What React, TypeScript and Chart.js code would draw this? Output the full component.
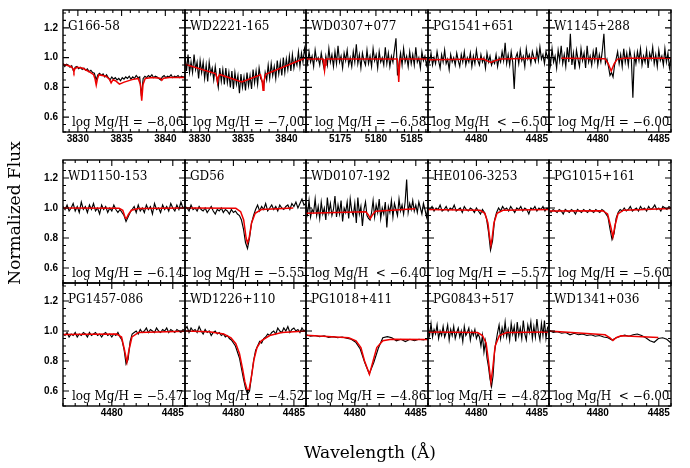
import React, { useEffect, useRef } from "react";
import { Chart, registerables } from "chart.js";
Chart.register(...registerables);

// ---------------- data ----------------
const yTickLabels = [0.6, 0.8, 1.0, 1.2];
const fluxMin = 0.5;
const fluxMax = 1.32;

// Panel 1: G166-58
const g16658Range = [3828.3, 3842.25];
const g16658Obs = [
  0.96, 0.94, 0.955, 0.95, 0.935, 0.945, 0.91, 0.935, 0.94, 0.925,
  0.935, 0.92, 0.93, 0.915, 0.925, 0.905, 0.915, 0.9, 0.895, 0.85,
  0.885, 0.895, 0.88, 0.89, 0.87, 0.885, 0.865, 0.85, 0.87, 0.855,
  0.865, 0.85, 0.86, 0.845, 0.865, 0.855, 0.87, 0.86, 0.875, 0.855,
  0.87, 0.86, 0.88, 0.865, 0.87, 0.74, 0.86, 0.875, 0.865, 0.88,
  0.87, 0.885, 0.865, 0.875, 0.87, 0.86, 0.85, 0.87, 0.88, 0.865,
  0.875, 0.87, 0.885, 0.865, 0.875, 0.87, 0.88, 0.865, 0.875, 0.87, 0.875,
];
const g16658Model = [
  [3828.3, 0.955], [3829.2, 0.94], [3829.45, 0.925], [3829.55, 0.905], [3829.65, 0.925], [3829.9, 0.935],
  [3830.5, 0.93], [3831.3, 0.905], [3831.8, 0.885], [3831.95, 0.86], [3832.1, 0.815], [3832.25, 0.86],
  [3832.4, 0.885], [3833.2, 0.875], [3833.6, 0.855], [3833.8, 0.83], [3834.0, 0.85], [3834.3, 0.845],
  [3834.75, 0.822], [3835.3, 0.835], [3836.2, 0.852], [3836.9, 0.86], [3837.15, 0.82], [3837.3, 0.71],
  [3837.45, 0.82], [3837.7, 0.86], [3838.5, 0.866], [3839.4, 0.862], [3839.6, 0.848], [3839.8, 0.862],
  [3840.5, 0.866], [3842.25, 0.866],
];

// Panel 2: WD2221-165
const wd2221Range = [3828.3, 3842.25];
const wd2221Obs = [
  1.01, 0.91, 1.02, 0.9, 0.97, 0.9, 1.02, 0.92, 0.97, 0.86,
  0.98, 0.9, 0.97, 0.86, 0.95, 0.84, 0.97, 0.89, 0.93, 0.85,
  0.94, 0.86, 0.8, 0.93, 0.84, 0.92, 0.82, 0.93, 0.83, 0.9,
  0.8, 0.91, 0.79, 0.9, 0.82, 0.88, 0.76, 0.89, 0.8, 0.87,
  0.78, 0.9, 0.81, 0.88, 0.79, 0.92, 0.83, 0.91, 0.82, 0.93,
  0.86, 0.84, 0.8, 0.9, 0.85, 0.95, 0.86, 0.96, 0.88, 0.94,
  0.86, 0.98, 0.89, 0.97, 0.88, 1.0, 0.9, 0.99, 0.92, 1.01,
  0.91, 1.02, 0.93, 0.99, 0.95, 1.04, 0.94, 1.03, 0.97, 1.06, 1.0,
];
const wd2221Model = [
  [3828.3, 0.955], [3831.8, 0.893], [3831.95, 0.87], [3832.05, 0.837], [3832.15, 0.87], [3832.3, 0.887],
  [3834.84, 0.837], [3837.0, 0.885], [3837.2, 0.84], [3837.3, 0.781], [3837.4, 0.84], [3837.6, 0.888],
  [3842.25, 1.0],
];

// Panel 3: WD0307+077
const wd0307Range = [5170.2, 5187.3];
const wd0307Obs = [
  1.02, 0.96, 1.04, 0.97, 1.01, 0.94, 1.05, 0.98, 1.0, 0.95,
  1.03, 0.97, 0.92, 1.01, 0.95, 1.06, 0.97, 1.02, 0.94, 1.04,
  0.96, 1.08, 0.97, 1.01, 0.93, 1.03, 0.98, 1.05, 0.95, 1.0,
  0.94, 1.04, 0.97, 1.09, 0.96, 1.02, 0.93, 1.03, 0.98, 0.95,
  1.05, 0.96, 1.01, 0.94, 1.06, 0.98, 1.02, 0.93, 1.04, 0.97,
  1.0, 0.95, 1.07, 0.96, 1.03, 0.94, 1.01, 0.97, 1.05, 1.13,
  0.88, 0.96, 1.03, 0.95, 1.06, 0.97, 1.01, 0.94, 1.04, 0.96,
  1.02, 0.95, 1.07, 0.97, 1.0, 0.93, 1.04, 0.98, 1.01, 0.95, 1.0,
];
const wd0307Model = [
  [5170.2, 0.99], [5172.6, 0.99], [5172.72, 0.95], [5172.8, 0.915], [5172.88, 0.95], [5173.0, 0.99],
  [5183.0, 0.99], [5183.12, 0.92], [5183.2, 0.837], [5183.28, 0.92], [5183.4, 0.99], [5187.3, 0.99],
];

// Panel 4: PG1541+651
const pg1541Range = [4476, 4486];
const pg1541Obs = [
  1.01, 0.97, 1.03, 0.95, 1.0, 0.96, 1.04, 0.98, 0.93, 1.02,
  0.97, 1.05, 0.96, 0.99, 0.92, 1.02, 0.97, 1.0, 0.95, 1.03,
  0.98, 0.94, 1.02, 0.97, 1.04, 0.95, 1.0, 0.97, 1.03, 0.94,
  1.01, 0.96, 1.05, 0.98, 0.95, 1.02, 0.97, 1.0, 0.93, 1.03,
  0.97, 1.01, 0.95, 0.98, 0.96, 1.02, 0.94, 1.0, 0.97, 1.04,
  0.98, 1.1, 0.96, 1.02, 0.95, 1.04, 0.97, 0.79, 1.0, 1.03,
  0.96, 1.05, 0.98, 1.01, 0.94, 1.06, 0.99, 1.02, 0.96, 1.04,
  1.0, 0.97, 1.05, 0.98, 1.07, 0.99, 1.02, 0.96, 1.04, 1.0, 1.03,
];
const pg1541Model = [
  [4476, 0.986], [4480.6, 0.99], [4480.9, 0.978], [4481.2, 0.968], [4481.5, 0.978], [4482.0, 0.99],
  [4485.0, 0.995],
];

// Panel 5: W1145+288
const w1145Range = [4476, 4486];
const w1145Obs = [
  1.03, 0.95, 1.06, 0.97, 1.01, 0.93, 1.05, 0.98, 1.08, 0.96,
  1.02, 0.94, 1.07, 0.97, 1.16, 0.95, 1.03, 0.92, 1.05, 0.99,
  0.94, 1.06, 0.98, 1.03, 0.93, 1.08, 0.97, 1.01, 0.95, 1.04,
  0.98, 1.07, 0.95, 1.02, 0.97, 1.05, 1.16, 0.96, 0.99, 0.94,
  0.88, 0.9, 0.87, 0.95, 0.99, 1.04, 0.96, 1.02, 0.94, 1.06,
  0.97, 1.03, 0.95, 1.05, 0.99, 0.73, 1.02, 0.96, 1.04, 0.98,
  1.06, 0.95, 1.01, 0.97, 1.05, 0.93, 1.03, 0.99, 1.07, 0.96,
  1.02, 0.94, 1.05, 0.98, 1.01, 0.95, 1.06, 0.97, 1.03, 0.93, 1.0,
];
const w1145Model = [
  [4477.0, 0.995], [4480.6, 0.993], [4480.85, 0.96], [4481.1, 0.91], [4481.35, 0.96], [4481.6, 0.99],
  [4482.2, 0.995], [4486, 0.995],
];

// Panel 6: WD1150-153
const wd1150Range = [4476, 4486];
const wd1150Obs = [
  1.01, 0.99, 1.02, 0.98, 1.0, 1.03, 0.98, 1.01, 0.97, 1.04,
  0.99, 1.01, 0.97, 1.02, 0.99, 1.03, 0.98, 1.0, 0.96, 1.02,
  0.99, 1.01, 0.97, 1.0, 0.98, 1.02, 0.99, 0.97, 0.99, 0.97,
  0.95, 0.91, 0.94, 0.97, 0.99, 1.01, 0.97, 1.02, 0.98, 1.0,
  0.97, 1.02, 0.99, 1.01, 0.96, 1.03, 0.99, 1.0, 0.97, 1.02,
  0.99, 1.01, 0.98, 1.03, 1.0, 0.98, 1.02, 0.99, 1.04, 1.0, 1.01,
];
const wd1150Model = [
  [4476, 1.0], [4480.6, 0.998], [4480.9, 0.985], [4481.1, 0.935], [4481.2, 0.93], [4481.35, 0.955],
  [4481.6, 0.985], [4482.2, 0.997], [4486, 1.0],
];

// Panel 7: GD56
const gd56Range = [4476, 4486];
const gd56Obs = [
  1.01, 1.0, 0.98, 1.02, 0.99, 1.0, 0.98, 1.01, 0.99, 0.98,
  1.0, 0.97, 0.99, 1.01, 0.98, 0.96, 0.99, 0.98, 1.0, 0.97,
  0.99, 0.98, 0.96, 0.99, 0.97, 0.98, 0.96, 0.95, 0.92, 0.86,
  0.77, 0.73, 0.8, 0.9, 0.95, 0.99, 1.02, 0.98, 1.01, 0.99,
  1.03, 0.98, 1.0, 1.02, 0.99, 1.01, 0.98, 1.02, 1.0, 0.99,
  1.01, 1.02, 0.99, 1.03, 1.01, 1.04, 1.0, 1.03, 1.06, 1.02, 1.03,
];
const gd56Model = [
  [4476, 1.0], [4480.2, 0.998], [4480.6, 0.975], [4480.85, 0.92], [4481.05, 0.8], [4481.16, 0.767],
  [4481.3, 0.8], [4481.5, 0.9], [4481.8, 0.965], [4482.3, 0.99], [4484.95, 1.0],
];

// Panel 8: WD0107-192
const wd0107Range = [4476, 4486];
const wd0107Obs = [
  1.02, 0.96, 1.05, 0.94, 0.99, 0.97, 1.06, 0.95, 1.01, 0.93,
  1.04, 0.96, 1.0, 0.92, 1.07, 0.97, 1.03, 0.95, 0.99, 1.08,
  0.94, 1.02, 0.96, 1.05, 0.91, 1.0, 0.97, 1.04, 0.93, 1.06,
  0.98, 0.95, 1.03, 0.9, 1.07, 0.96, 1.01, 0.88, 0.99, 1.04,
  0.95, 0.93, 0.92, 0.97, 1.05, 0.94, 1.02, 0.97, 1.06, 0.93,
  1.0, 0.96, 1.04, 0.87, 1.01, 0.97, 1.05, 0.94, 1.03, 0.99,
  0.95, 1.06, 0.98, 1.02, 0.96, 1.04, 1.19, 0.97, 1.03, 0.99,
  1.05, 0.98, 1.02, 0.97, 1.04, 1.0, 0.96, 1.03, 0.99, 0.94, 1.01,
];
const wd0107Model = [
  [4476, 0.965], [4480.9, 0.975], [4481.1, 0.955], [4481.27, 0.93], [4481.45, 0.955], [4481.7, 0.978],
  [4484.97, 0.995],
];

// Panel 9: HE0106-3253
const he0106Range = [4476, 4486];
const he0106Obs = [
  1.0, 0.99, 1.01, 0.98, 1.0, 0.99, 1.02, 0.98, 0.99, 1.01,
  0.98, 1.0, 0.99, 1.02, 0.98, 0.99, 1.0, 0.97, 1.01, 0.99,
  0.98, 1.0, 0.99, 0.97, 1.0, 0.98, 0.96, 0.99, 0.97, 0.93,
  0.84, 0.72, 0.78, 0.92, 0.97, 1.0, 0.98, 1.01, 0.99, 1.0,
  0.98, 1.01, 0.99, 0.97, 1.0, 0.99, 1.01, 0.98, 1.0, 0.99,
  0.96, 1.0, 0.99, 1.01, 0.98, 1.0, 0.99, 1.01, 0.98, 1.0, 0.99,
];
const he0106Model = [
  [4476, 0.99], [4480.3, 0.985], [4480.7, 0.965], [4480.95, 0.9], [4481.1, 0.8], [4481.2, 0.751],
  [4481.3, 0.8], [4481.45, 0.9], [4481.7, 0.965], [4482.2, 0.985], [4486, 0.99],
];

// Panel 10: PG1015+161
const pg1015Range = [4476, 4486];
const pg1015Obs = [
  0.99, 0.97, 0.99, 0.98, 0.97, 0.99, 0.98, 0.96, 0.99, 0.98,
  0.97, 0.99, 0.98, 0.96, 0.99, 0.98, 0.97, 0.99, 0.98, 0.97,
  0.99, 0.98, 0.97, 0.99, 0.98, 0.97, 0.99, 0.98, 0.96, 0.94,
  0.86, 0.79, 0.83, 0.93, 0.97, 0.99, 0.98, 1.0, 0.98, 0.99,
  1.01, 0.98, 0.99, 1.0, 0.98, 1.01, 0.99, 1.0, 0.98, 1.01,
  0.99, 1.0, 1.02, 0.99, 1.0, 0.98, 1.01, 1.0, 0.99, 1.01, 1.0,
];
const pg1015Model = [
  [4476, 0.98], [4480.4, 0.982], [4480.8, 0.96], [4481.05, 0.88], [4481.24, 0.807], [4481.4, 0.88],
  [4481.65, 0.96], [4482.1, 0.985], [4486, 0.997],
];

// Panel 11: PG1457-086
const pg1457Range = [4476, 4486];
const pg1457Obs = [
  0.98, 0.97, 0.99, 0.96, 0.98, 0.97, 0.99, 0.96, 0.98, 0.97,
  0.99, 0.98, 0.96, 0.99, 0.97, 0.98, 0.99, 0.97, 0.98, 0.96,
  0.98, 0.99, 0.97, 0.98, 0.96, 0.98, 0.97, 0.99, 0.96, 0.94,
  0.88, 0.78, 0.81, 0.93, 0.98, 0.99, 1.0, 0.98, 1.01, 0.99,
  1.0, 1.02, 0.99, 1.01, 1.0, 0.99, 1.02, 1.0, 0.99, 1.01,
  1.0, 1.02, 0.99, 1.01, 1.0, 0.99, 1.01, 1.0, 0.99, 1.01, 1.0,
];
const pg1457Model = [
  [4476, 0.977], [4480.4, 0.98], [4480.8, 0.96], [4481.05, 0.87], [4481.24, 0.793], [4481.4, 0.87],
  [4481.65, 0.96], [4482.2, 0.99], [4486, 0.999],
];

// Panel 12: WD1226+110
const wd1226Range = [4476, 4486];
const wd1226Obs = [
  1.01, 1.03, 0.99, 1.02, 1.0, 1.01, 0.99, 1.03, 1.0, 0.98,
  1.01, 0.99, 1.0, 0.97, 0.99, 1.0, 0.98, 0.99, 0.97, 0.98,
  0.96, 0.97, 0.95, 0.94, 0.92, 0.9, 0.86, 0.82, 0.75, 0.68,
  0.62, 0.58, 0.6, 0.7, 0.8, 0.87, 0.9, 0.93, 0.92, 0.95,
  0.96, 0.98, 0.97, 0.99, 1.0, 0.98, 1.02, 1.0, 0.99, 1.02,
  1.0, 1.03, 0.99, 1.01, 1.02, 1.0, 1.01, 0.99, 1.02, 1.0, 1.01,
];
const wd1226Model = [
  [4476, 1.0], [4478, 0.995], [4479.2, 0.98], [4479.8, 0.955], [4480.2, 0.915], [4480.5, 0.85],
  [4480.75, 0.75], [4480.95, 0.66], [4481.15, 0.605], [4481.3, 0.61], [4481.5, 0.7], [4481.7, 0.81],
  [4481.95, 0.89], [4482.3, 0.935], [4483, 0.97], [4484, 0.99], [4486, 1.0],
];

// Panel 13: PG1018+411
const pg1018Range = [4476, 4486];
const pg1018Obs = [
  0.975, 0.965, 0.97, 0.962, 0.968, 0.958, 0.962, 0.955, 0.96, 0.952,
  0.945, 0.925, 0.88, 0.79, 0.715, 0.79, 0.885, 0.955, 0.962, 0.955,
  0.935, 0.945, 0.93, 0.945, 0.935, 0.945, 0.94, 0.95,
];
const pg1018Model = [
  [4476, 0.972], [4479.5, 0.955], [4480.1, 0.935], [4480.5, 0.89], [4480.8, 0.8], [4481.2, 0.711],
  [4481.5, 0.8], [4481.8, 0.89], [4482.3, 0.935], [4483, 0.945], [4486, 0.943],
];

// Panel 14: PG0843+517
const pg0843Range = [4476, 4486];
const pg0843Obs = [
  1.03, 0.97, 1.05, 0.96, 1.01, 0.98, 1.04, 0.95, 1.0, 0.97,
  1.03, 0.96, 0.99, 1.04, 0.94, 1.01, 0.97, 1.03, 0.95, 0.99,
  1.02, 0.96, 1.0, 0.93, 1.03, 0.97, 0.99, 1.02, 0.94, 1.0,
  0.97, 1.01, 0.95, 0.98, 0.96, 0.9, 0.97, 0.86, 0.93, 0.82,
  0.76, 0.68, 0.63, 0.7, 0.86, 0.93, 0.99, 1.04, 0.95, 1.02,
  0.97, 1.06, 0.96, 1.01, 0.94, 1.05, 0.98, 1.03, 0.93, 1.06,
  0.97, 1.02, 0.95, 1.07, 0.98, 0.94, 1.04, 0.99, 1.06, 0.95,
  1.03, 0.96, 1.08, 0.99, 0.94, 1.05, 0.97, 1.07, 0.95, 1.02, 1.04,
];
const pg0843Model = [
  [4476, 0.994], [4480.1, 0.99], [4480.5, 0.97], [4480.8, 0.92], [4481.0, 0.8], [4481.2, 0.66],
  [4481.35, 0.75], [4481.55, 0.9], [4481.9, 0.97], [4482.5, 0.99], [4486, 0.994],
];

// Panel 15: WD1341+036
const wd1341Range = [4476, 4486];
const wd1341Obs = [
  1.005, 0.99, 0.995, 0.985, 0.99, 0.975, 0.985, 0.975, 0.98, 0.97,
  0.975, 0.965, 0.97, 0.96, 0.955, 0.94, 0.955, 0.965, 0.972, 0.965,
  0.975, 0.98, 0.97, 0.955, 0.935, 0.925, 0.95, 0.955, 0.945, 0.92,
];
const wd1341Model = [
  [4476, 1.0], [4480.6, 0.975], [4481.0, 0.955], [4481.24, 0.937], [4481.5, 0.955], [4481.9, 0.968],
  [4484.96, 0.957],
];

const starNames = [
  "G166-58", "WD2221-165", "WD0307+077", "PG1541+651", "W1145+288",
  "WD1150-153", "GD56", "WD0107-192", "HE0106-3253", "PG1015+161",
  "PG1457-086", "WD1226+110", "PG1018+411", "PG0843+517", "WD1341+036",
];
const abundanceLabels = [
  "log Mg/H = \u22128.06", "log Mg/H = \u22127.00", "log Mg/H = \u22126.58", "log Mg/H  < \u22126.50", "log Mg/H = \u22126.00",
  "log Mg/H = \u22126.14", "log Mg/H = \u22125.55", "log Mg/H  < \u22126.40", "log Mg/H = \u22125.57", "log Mg/H = \u22125.60",
  "log Mg/H = \u22125.47", "log Mg/H = \u22124.52", "log Mg/H = \u22124.86", "log Mg/H = \u22124.82", "log Mg/H  < \u22126.00",
];
const obsSeries = [
  g16658Obs, wd2221Obs, wd0307Obs, pg1541Obs, w1145Obs,
  wd1150Obs, gd56Obs, wd0107Obs, he0106Obs, pg1015Obs,
  pg1457Obs, wd1226Obs, pg1018Obs, pg0843Obs, wd1341Obs,
];
const modelSeries = [
  g16658Model, wd2221Model, wd0307Model, pg1541Model, w1145Model,
  wd1150Model, gd56Model, wd0107Model, he0106Model, pg1015Model,
  pg1457Model, wd1226Model, pg1018Model, pg0843Model, wd1341Model,
];
const wlRanges = [
  g16658Range, wd2221Range, wd0307Range, pg1541Range, w1145Range,
  wd1150Range, gd56Range, wd0107Range, he0106Range, pg1015Range,
  pg1457Range, wd1226Range, pg1018Range, pg0843Range, wd1341Range,
];

// ---------------- layout ----------------
const W = 690;
const H = 468;
const colEdges = [63, 185, 306, 428, 549, 671];
const rowEdges = [
  [10, 132],
  [160, 283],
  [283, 406],
];

const SERIF = '"DejaVu Serif", serif';
const TICKFONT = 'bold 10px "Liberation Sans", Arial, sans-serif';

function makePlugin(idx: number) {
  const row = Math.floor(idx / 5);
  const col = idx % 5;
  return {
    id: "frame" + idx,
    afterDraw(chart: any) {
      const ctx = chart.ctx;
      const { left, right, top, bottom } = chart.chartArea;
      const xs = chart.scales.x;
      const ys = chart.scales.y;
      ctx.save();
      ctx.strokeStyle = "#000";
      ctx.lineWidth = 1.4;
      ctx.strokeRect(left, top, right - left, bottom - top);
      ctx.lineWidth = 1.1;
      ctx.beginPath();
      for (let v = Math.ceil(xs.min); v <= xs.max; v++) {
        const px = xs.getPixelForValue(v);
        const len = v % 5 === 0 ? 6 : 3;
        ctx.moveTo(px, bottom);
        ctx.lineTo(px, bottom - len);
        ctx.moveTo(px, top);
        ctx.lineTo(px, top + len);
      }
      for (let k = Math.ceil(ys.min / 0.05 - 1e-6); k * 0.05 <= ys.max + 1e-9; k++) {
        const py = ys.getPixelForValue(k * 0.05);
        const len = k % 4 === 0 ? 6 : 3;
        ctx.moveTo(left, py);
        ctx.lineTo(left + len, py);
        ctx.moveTo(right, py);
        ctx.lineTo(right - len, py);
      }
      ctx.stroke();

      ctx.fillStyle = "#000";
      // tick labels
      ctx.font = TICKFONT;
      if (col === 0) {
        ctx.textAlign = "right";
        ctx.textBaseline = "middle";
        for (const v of yTickLabels) {
          ctx.fillText(v.toFixed(1), left - 5, ys.getPixelForValue(v));
        }
      }
      if (row === 0 || row === 2) {
        ctx.textAlign = "center";
        ctx.textBaseline = "top";
        for (let v = Math.ceil(xs.min / 5) * 5; v <= xs.max; v += 5) {
          ctx.fillText(String(v), xs.getPixelForValue(v), bottom + 2);
        }
      }
      // annotations
      ctx.font = "12px " + SERIF;
      ctx.textBaseline = "middle";
      ctx.textAlign = "left";
      ctx.fillText(starNames[idx], left + 5, top + 17);
      ctx.textAlign = "right";
      ctx.fillText(abundanceLabels[idx], right - 1.5, bottom - 9);

      if (idx === 0) {
        ctx.font = "17px " + SERIF;
        ctx.textAlign = "center";
        ctx.textBaseline = "middle";
        ctx.fillText("Wavelength (\u00C5)", 370, 454);
        ctx.save();
        ctx.translate(16, 213);
        ctx.rotate(-Math.PI / 2);
        ctx.fillText("Normalized Flux", 0, 0);
        ctx.restore();
      }
      ctx.restore();
    },
  };
}

function Panel({ idx }: { idx: number }) {
  const ref = useRef<HTMLCanvasElement | null>(null);
  useEffect(() => {
    const row = Math.floor(idx / 5);
    const col = idx % 5;
    const [x0, x1] = [colEdges[col], colEdges[col + 1]];
    const [y0, y1] = rowEdges[row];
    const [wMin, wMax] = wlRanges[idx];
    const obs = obsSeries[idx];
    const n = obs.length;
    const obsData = obs.map((v, i) => ({ x: wMin + (i * (wMax - wMin)) / (n - 1), y: v }));
    const modelData = modelSeries[idx].map(([x, y]) => ({ x, y }));
    const chart = new Chart(ref.current as HTMLCanvasElement, {
      type: "line",
      data: {
        datasets: [
          {
            data: modelData,
            borderColor: "#ee0000",
            borderWidth: 1.5,
            pointRadius: 0,
            tension: 0,
            order: 0,
          },
          {
            data: obsData,
            borderColor: "#000000",
            borderWidth: 1.15,
            pointRadius: 0,
            tension: 0,
            order: 1,
          },
        ],
      },
      options: {
        animation: false,
        responsive: false,
        events: [],
        layout: { padding: { left: x0, right: W - x1, top: y0, bottom: H - y1 } },
        plugins: { legend: { display: false }, tooltip: { enabled: false } },
        scales: {
          x: { type: "linear", min: wMin, max: wMax, display: false },
          y: { type: "linear", min: fluxMin, max: fluxMax, display: false },
        },
      },
      plugins: [makePlugin(idx)],
    } as any);
    return () => chart.destroy();
  }, [idx]);
  return (
    <canvas
      ref={ref}
      width={W}
      height={H}
      style={{ position: "absolute", left: 0, top: 0, width: W, height: H }}
    />
  );
}

export default function App() {
  return (
    <div style={{ position: "absolute", left: 0, top: 0, width: W, height: H, background: "#fff" }}>
      {starNames.map((_, i) => (
        <Panel key={i} idx={i} />
      ))}
    </div>
  );
}
